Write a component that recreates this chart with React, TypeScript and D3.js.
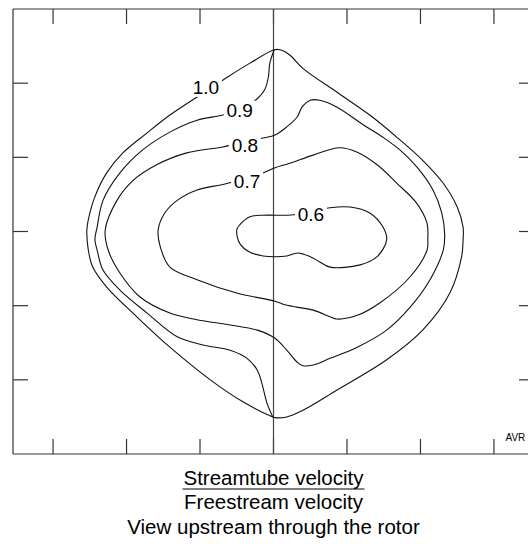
import * as d3 from "d3";

type Pt = [number, number];

// velocity ratio contours, in grid units (one tick = 1), origin at the rotor centre
const levels = ["1.0", "0.9", "0.8", "0.7", "0.6"];

const contour10: Pt[] = [
  [0.01, 2.45], [0.09, 2.45], [0.22, 2.38], [0.4, 2.2], [0.86, 1.88], [1.31, 1.57],
  [1.68, 1.27], [2.03, 0.96], [2.31, 0.65], [2.5, 0.33], [2.58, 0.06], [2.58, -0.11],
  [2.56, -0.34], [2.4, -0.83], [2.03, -1.33], [1.54, -1.73], [0.86, -2.14], [0.4, -2.41],
  [0.18, -2.5], [0.02, -2.51], [-0.01, -2.5], [-0.41, -2.3], [-0.86, -2.0], [-1.41, -1.56],
  [-1.86, -1.15], [-2.27, -0.75], [-2.46, -0.48], [-2.52, -0.25], [-2.54, 0.02],
  [-2.52, 0.16], [-2.43, 0.47], [-2.27, 0.79], [-2.05, 1.06], [-1.72, 1.33], [-1.41, 1.57],
  [-1.14, 1.75], [-0.92, 1.89], [-0.63, 2.08], [-0.32, 2.27],
];

// 0.9 only on the left: on the right it runs along the 1.0 line
const contour09: Pt[] = [
  [0.01, 2.45], [-0.05, 2.27], [-0.07, 2.08], [-0.12, 1.91], [-0.21, 1.8], [-0.44, 1.65],
  [-0.69, 1.57], [-1.04, 1.5], [-1.41, 1.34], [-1.78, 1.1], [-2.09, 0.79], [-2.32, 0.42],
  [-2.4, 0.06], [-2.43, -0.11], [-2.4, -0.25], [-2.32, -0.52], [-2.09, -0.79], [-1.72, -1.1],
  [-1.31, -1.42], [-0.96, -1.53], [-0.59, -1.6], [-0.36, -1.71], [-0.22, -1.87],
  [-0.16, -2.04], [-0.09, -2.31], [-0.01, -2.5],
];

const contour08: Pt[] = [
  [-0.39, 1.21], [-0.14, 1.26], [0.02, 1.3], [0.18, 1.41], [0.32, 1.54], [0.39, 1.68],
  [0.5, 1.77], [0.63, 1.77], [0.86, 1.68], [1.22, 1.44], [1.49, 1.27], [1.72, 1.1],
  [1.95, 0.87], [2.17, 0.56], [2.29, 0.25], [2.33, -0.05], [2.31, -0.25], [2.13, -0.65],
  [1.86, -1.02], [1.54, -1.33], [1.14, -1.56], [0.77, -1.71], [0.54, -1.8], [0.4, -1.81],
  [0.32, -1.76], [0.18, -1.6], [0.02, -1.44], [-0.22, -1.33], [-0.59, -1.26], [-1.04, -1.19],
  [-1.41, -1.1], [-1.82, -0.88], [-2.09, -0.56], [-2.25, -0.25], [-2.29, 0.02],
  [-2.13, 0.42], [-1.91, 0.69], [-1.59, 0.9], [-1.18, 1.06], [-0.69, 1.14],
];

const contour07: Pt[] = [
  [-0.37, 0.72], [-0.14, 0.79], [0.02, 0.86], [0.22, 0.92], [0.54, 1.03], [0.9, 1.13],
  [1.14, 1.07], [1.41, 0.9], [1.68, 0.65], [1.95, 0.38], [2.09, 0.11], [2.1, -0.11],
  [2.09, -0.25], [1.86, -0.61], [1.45, -0.96], [1.14, -1.13], [0.86, -1.18], [0.77, -1.15],
  [0.54, -1.06], [0.32, -1.02], [0.13, -0.98], [0.02, -0.94], [-0.5, -0.83], [-1.04, -0.65],
  [-1.41, -0.48], [-1.54, -0.21], [-1.57, 0.02], [-1.48, 0.25], [-1.31, 0.42],
  [-1.04, 0.56], [-0.66, 0.64],
];

const contour06: Pt[] = [
  [0.51, 0.26], [0.77, 0.32], [1.04, 0.33], [1.31, 0.25], [1.49, 0.06], [1.54, -0.11],
  [1.41, -0.34], [1.18, -0.45], [0.77, -0.48], [0.63, -0.41], [0.5, -0.34], [0.33, -0.29],
  [0.18, -0.33], [0.02, -0.34], [-0.14, -0.33], [-0.32, -0.28], [-0.46, -0.16],
  [-0.5, 0.02], [-0.46, 0.09], [-0.32, 0.2], [-0.14, 0.22], [0.02, 0.22], [0.2, 0.22],
];

const labelX = [-0.92, -0.46, -0.39, -0.36, 0.51];
const labelY = [1.95, 1.63, 1.17, 0.68, 0.23];

const xTicks = [-3, -2, -1, 0, 1, 2, 3];
const yTicks = [-2, -1, 0, 1, 2];

const captionTop = "Streamtube velocity";
const captionBottom = "Freestream velocity";
const subtitle = "View upstream through the rotor";
const corner = "AVR";

export default function App() {
  const width = 528;
  const height = 544;
  const frame = { left: 13, right: 534, top: 9, bottom: 454 };
  const tick = 15;
  const font = "'Liberation Sans', Arial, Helvetica, sans-serif";

  const x = d3.scaleLinear().domain([-3.545, 3.545]).range([frame.left, frame.right]);
  const y = d3.scaleLinear().domain([-3, 3]).range([frame.bottom, frame.top]);

  const ring = d3
    .line<Pt>()
    .x((d) => x(d[0]))
    .y((d) => y(d[1]))
    .curve(d3.curveCatmullRomClosed.alpha(0.5));
  const open = d3
    .line<Pt>()
    .x((d) => x(d[0]))
    .y((d) => y(d[1]))
    .curve(d3.curveCatmullRom.alpha(0.5));

  const rings = [contour10, contour08, contour07, contour06];
  const cx = x(0);

  return (
    <svg
      width={width}
      height={height}
      style={{ position: "fixed", left: 0, top: 0, background: "#fff" }}
      fontFamily={font}
    >
      {/* frame */}
      <g stroke="#333" strokeWidth={1.2} fill="none">
        <line x1={frame.left} x2={frame.right} y1={frame.top} y2={frame.top} />
        <line x1={frame.left} x2={frame.right} y1={frame.bottom} y2={frame.bottom} />
        <line x1={frame.left} x2={frame.left} y1={frame.top} y2={frame.bottom} />
        <line x1={frame.right} x2={frame.right} y1={frame.top} y2={frame.bottom} />
        {xTicks.map((t) => (
          <g key={"x" + t}>
            <line x1={x(t)} x2={x(t)} y1={frame.top} y2={frame.top + tick} />
            <line x1={x(t)} x2={x(t)} y1={frame.bottom} y2={frame.bottom - tick} />
          </g>
        ))}
        {yTicks.map((t) => (
          <g key={"y" + t}>
            <line x1={frame.left} x2={frame.left + tick} y1={y(t)} y2={y(t)} />
            <line x1={frame.right} x2={frame.right - tick} y1={y(t)} y2={y(t)} />
          </g>
        ))}
        {/* rotor centre line */}
        <line x1={cx} x2={cx} y1={frame.top} y2={frame.bottom} stroke="#444" />
      </g>

      {/* contours */}
      <g stroke="#111" strokeWidth={1.1} fill="none">
        {rings.map((r, i) => (
          <path key={i} d={ring(r) ?? ""} />
        ))}
        <path d={open(contour09) ?? ""} />
      </g>

      {/* contour labels */}
      {levels.map((lv, i) => (
        <g key={lv} transform={`translate(${x(labelX[i])},${y(labelY[i])})`}>
          <rect x={-16} y={-10} width={32} height={20} fill="#fff" />
          <text textAnchor="middle" dy="0.36em" fontSize={19} fill="#000">
            {lv}
          </text>
        </g>
      ))}

      <text x={505.5} y={441} fontSize={10} fill="#000">
        {corner}
      </text>

      {/* caption */}
      <g textAnchor="middle" fontSize={20.5} fill="#000">
        <text x={cx} y={485}>
          {captionTop}
        </text>
        <line x1={cx - 91} x2={cx + 91} y1={489} y2={489} stroke="#000" strokeWidth={1} />
        <text x={cx} y={509}>
          {captionBottom}
        </text>
        <text x={cx} y={534}>
          {subtitle}
        </text>
      </g>
    </svg>
  );
}
